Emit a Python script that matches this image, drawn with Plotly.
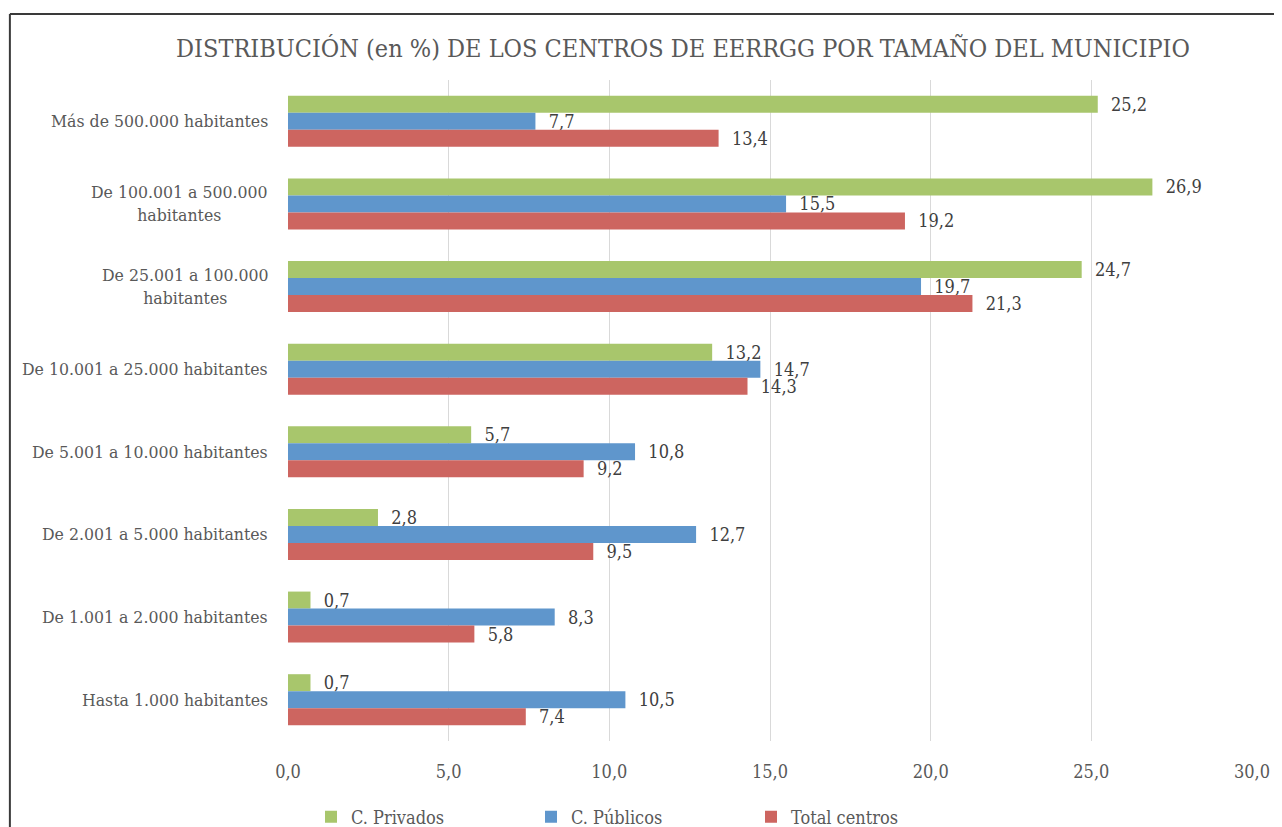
import plotly.graph_objects as go

# Categorías (de arriba a abajo)
municipios = [
    'Más de 500.000 habitantes',
    'De 100.001 a 500.000<br>habitantes',
    'De 25.001 a 100.000<br>habitantes',
    'De 10.001 a 25.000 habitantes',
    'De 5.001 a 10.000 habitantes',
    'De 2.001 a 5.000 habitantes',
    'De 1.001 a 2.000 habitantes',
    'Hasta 1.000 habitantes',
]

privados = [25.2, 26.9, 24.7, 13.2, 5.7, 2.8, 0.7, 0.7]
publicos = [7.7, 15.5, 19.7, 14.7, 10.8, 12.7, 8.3, 10.5]
total = [13.4, 19.2, 21.3, 14.3, 9.2, 9.5, 5.8, 7.4]

x_ticks = [0, 5, 10, 15, 20, 25, 30]

FONT = 'DejaVu Serif Condensed, Liberation Serif, serif'

# la página html tiene 8px de margen en body
W, H = 1274, 819


def etiqueta(v):
    return '\u00a0\u00a0' + f'{v:.1f}'.replace('.', ',')


series = [
    ('C. Privados', privados, '#a8c66c'),
    ('C. Públicos', publicos, '#5f96cc'),
    ('Total centros', total, '#cd6560'),
]

fig = go.Figure()
for nombre, valores, color in series:
    fig.add_trace(go.Bar(
        y=municipios,
        x=valores,
        name=nombre,
        orientation='h',
        marker=dict(color=color, line=dict(width=0)),
        text=[etiqueta(v) for v in valores],
        textposition='outside',
        constraintext='none',
        textfont=dict(family=FONT, size=18, color='#404040'),
        cliponaxis=False,
    ))

# Etiquetas de categoría centradas (como en Excel)
for m in municipios:
    fig.add_annotation(
        x=-0.0186, xref='paper', y=m, yref='y',
        text=m, showarrow=False, xanchor='right', align='center',
        font=dict(family=FONT, size=17.5, color='#595959'),
    )

# Marco del gráfico (bordes izquierdo y superior)
fig.add_shape(type='line', xref='paper', yref='paper',
              x0=-0.2885, x1=1.1, y0=1.1, y1=1.1,
              line=dict(color='#3a3a3a', width=2), layer='above')
fig.add_shape(type='line', xref='paper', yref='paper',
              x0=-0.2885, x1=-0.2885, y0=-0.3, y1=1.1,
              line=dict(color='#3a3a3a', width=2), layer='above')

fig.update_layout(
    width=W, height=H,
    margin=dict(l=280, r=27, t=72, b=86),
    paper_bgcolor='white', plot_bgcolor='white',
    barmode='group', bargap=0.383, bargroupgap=0,
    title=dict(
        text='DISTRIBUCIÓN (en %) DE LOS CENTROS DE EERRGG POR TAMAÑO DEL MUNICIPIO',
        x=675 / W, xref='container', xanchor='center',
        y=1 - 40 / H, yref='container', yanchor='middle',
        font=dict(family=FONT, size=25, color='#595959'),
    ),
    xaxis=dict(
        range=[0, 30], tickvals=x_ticks,
        ticktext=[f'{t:.1f}'.replace('.', ',') for t in x_ticks],
        showgrid=True, gridcolor='#d9d9d9', gridwidth=1,
        zeroline=False, showline=False,
        tickfont=dict(family=FONT, size=18, color='#595959'),
        ticklabelstandoff=18,
    ),
    yaxis=dict(
        autorange='reversed', showticklabels=False,
        showgrid=False, zeroline=False, showline=False,
    ),
    legend=dict(
        orientation='h', xref='container', x=(331 - 8 - 20) / W, xanchor='left',
        yref='container', y=10 / H, yanchor='middle',
        entrywidth=175, entrywidthmode='pixels',
        font=dict(family=FONT, size=18, color='#595959'),
        itemwidth=30,
    ),
    showlegend=True,
)

fig.write_html('out.html')
